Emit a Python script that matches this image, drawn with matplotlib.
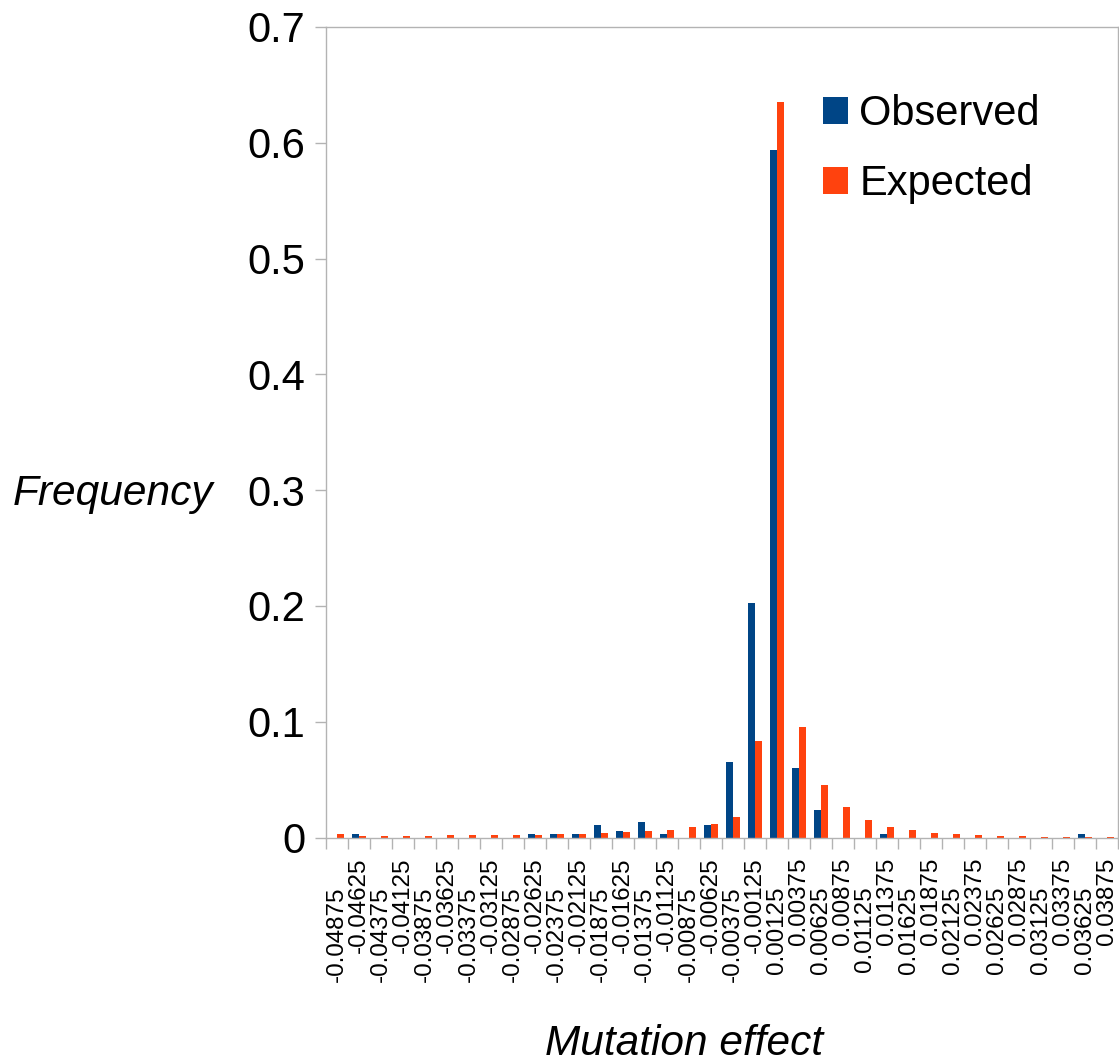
import matplotlib
matplotlib.use('Agg')
import matplotlib.pyplot as plt
import numpy as np

# Bin centres of the mutation effect histogram
categories = ['-0.04875', '-0.04625', '-0.04375', '-0.04125', '-0.03875', '-0.03625',
              '-0.03375', '-0.03125', '-0.02875', '-0.02625', '-0.02375', '-0.02125',
              '-0.01875', '-0.01625', '-0.01375', '-0.01125', '-0.00875', '-0.00625',
              '-0.00375', '-0.00125', '0.00125', '0.00375', '0.00625', '0.00875',
              '0.01125', '0.01375', '0.01625', '0.01875', '0.02125', '0.02375',
              '0.02625', '0.02875', '0.03125', '0.03375', '0.03625', '0.03875']

observed = [0.0, 0.003, 0.0, 0.0, 0.0, 0.0,
            0.0, 0.0, 0.0, 0.003, 0.003, 0.003,
            0.0106, 0.0057, 0.0135, 0.003, 0.0, 0.0106,
            0.065, 0.2025, 0.5935, 0.0598, 0.0236, 0.0,
            0.0, 0.0029, 0.0, 0.0, 0.0, 0.0,
            0.0, 0.0, 0.0, 0.0, 0.0029, 0.0]

expected = [0.0026, 0.0015, 0.0015, 0.0015, 0.0015, 0.0025,
            0.0025, 0.0025, 0.0025, 0.0025, 0.003, 0.003,
            0.004, 0.0049, 0.0057, 0.0066, 0.0092, 0.0118,
            0.0175, 0.083, 0.635, 0.0951, 0.0451, 0.0261,
            0.0149, 0.0089, 0.0063, 0.0037, 0.0029, 0.002,
            0.0012, 0.0012, 0.0005, 0.0005, 0.0005, 0.0005]

yticks = [0, 0.1, 0.2, 0.3, 0.4, 0.5, 0.6, 0.7]
ytick_labels = ['0', '0.1', '0.2', '0.3', '0.4', '0.5', '0.6', '0.7']

plt.rcParams['font.family'] = ['Liberation Sans', 'DejaVu Sans']

blue = '#004586'
orange = '#ff420e'
grey = '#b3b3b3'

W, H = 1119, 1062
fig = plt.figure(figsize=(W / 100, H / 100), dpi=100)
# plot area in pixel coords: x 326..1118, y 27..837.5
ax = fig.add_axes([326 / W, (H - 837.5) / H, (1118 - 326) / W, (837.5 - 27) / H])

x = np.arange(len(categories))
bw = 0.34
ax.bar(x - bw / 2, observed, bw, color=blue, label='Observed')
ax.bar(x + bw / 2, expected, bw, color=orange, label='Expected')

ax.set_xlim(-0.5, len(categories) - 0.5)
ax.set_ylim(0, 0.7)

for s in ax.spines.values():
    s.set_color(grey)
    s.set_linewidth(1.0)

# y axis
ax.set_yticks(yticks)
ax.set_yticklabels(ytick_labels, fontsize=30)
ax.tick_params(axis='y', direction='out', length=8, width=1.0, color=grey, pad=7)

# boundary tick marks on x, no labels
ax.set_xticks(np.arange(len(categories) + 1) - 0.5)
ax.set_xticklabels([])
ax.tick_params(axis='x', which='major', direction='out', length=8, width=1.0, color=grey)

# odd labels (higher row) as minor ticks
odd = x[1::2]
ax.set_xticks(odd, minor=True)
ax.set_xticklabels([categories[i] for i in odd], minor=True, rotation=90, fontsize=17.4)
ax.tick_params(axis='x', which='minor', length=0, pad=14.4)

# even labels (lower row) on a secondary axis
sec = ax.secondary_xaxis('bottom')
even = x[0::2]
sec.set_xticks(even)
sec.set_xticklabels([categories[i] for i in even], rotation=90, fontsize=17.4)
sec.tick_params(axis='x', length=0, pad=35.3)
sec.spines['bottom'].set_visible(False)

ax.set_xlabel('Mutation effect', fontsize=30.5, style='italic', va='baseline', ha='center')
ax.xaxis.set_label_coords((684 - 326) / 792, (837.5 - 1055) / 810.5)
ax.set_ylabel('Frequency', fontsize=30.5, style='italic', rotation=0, va='baseline', ha='center')
ax.yaxis.set_label_coords((113 - 326) / 792, (837.5 - 505) / 810.5)

ax.legend(loc='upper left', bbox_to_anchor=(823 / W, 1 - 94 / H), bbox_transform=fig.transFigure,
          frameon=False, fontsize=30, handlelength=0.6, handleheight=0.6,
          handletextpad=0.27, labelspacing=0.72, borderpad=0, borderaxespad=0)

fig.savefig('out.png', dpi=100)
